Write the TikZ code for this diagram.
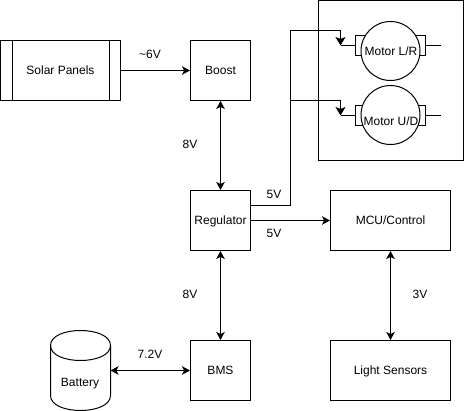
\documentclass[tikz,border=0pt]{standalone}
\usepackage{fontspec}
\setmainfont{Liberation Sans}
\usetikzlibrary{arrows.meta}
\tikzset{
    block/.style={draw, minimum width=60pt, minimum height=60pt, inner sep=0pt, text height=8.6pt, text depth=0.6pt, font=\fontsize{12}{14}\selectfont},
    widebox/.style={block, minimum width=120pt},
    volt/.style={inner sep=0pt, text height=8.6pt, text depth=0.6pt, font=\fontsize{12}{14}\selectfont},
    motorbody/.style={draw, circle, fill=white, minimum size=59pt, inner sep=0pt},
    brush/.style={draw, minimum width=12pt, minimum height=20pt, inner sep=0pt},
    tip/.style={-{Stealth[length=8pt,width=8.5pt,inset=2pt]}},
    widetip/.style={-{Stealth[length=8.5pt,width=10pt,inset=2pt]}},
    bothtip/.style={{Stealth[length=8pt,width=8.5pt,inset=2pt]}-{Stealth[length=8pt,width=8.5pt,inset=2pt]}}
}
\begin{document}
\begin{tikzpicture}[x=1pt, y=-1pt, line width=1pt]
        \useasboundingbox (0,0) rectangle (464,411);

        % the enclosure round the motors
        \draw (318,0.5) rectangle (463.5,160.5);

        % the blocks
        \node[widebox] (solar) at (60.5,70.5) {Solar Panels};
        \draw (solar.north west) ++(12,0) -- ++(0,60);
        \draw (solar.north east) ++(-12,0) -- ++(0,60);
        \node[block] (boost) at (220.5,70.5) {Boost};
        \node[block] (reg) at (220.5,220.5) {Regulator};
        \node[block] (bms) at (220.5,370.5) {BMS};
        \node[widebox] (mcu) at (390.5,220.5) {MCU/Control};
        \node[widebox] (light) at (390.5,370.5) {Light Sensors};

        % the battery, drawn by hand since it is a can
        \draw (50.5,345.5) .. controls (50.5,325.5) and (110.5,325.5) .. (110.5,345.5) -- (110.5,395.5)
            .. controls (110.5,415.5) and (50.5,415.5) .. (50.5,395.5) -- cycle;
        \draw (50.5,345.5) .. controls (50.5,365.5) and (110.5,365.5) .. (110.5,345.5);
        \node[volt] (bat) at (80,383) {Battery};
        \coordinate (batport) at (110.5,370.5);

        % the motors
        \node[brush] (lbrush1) at (361.5,45.5) {};
        \node[brush] (rbrush1) at (419.5,45.5) {};
        \node[motorbody] (motor1) at (390.5,51) {};
        \node[volt] (mlabel1) at (391,52) {Motor L/R};
        \node[brush] (lbrush2) at (361.5,115.5) {};
        \node[brush] (rbrush2) at (419.5,115.5) {};
        \node[motorbody] (motor2) at (390.5,115) {};
        \node[volt] (mlabel2) at (391,122) {Motor U/D};
        \coordinate (in1) at (340.5,45.5);
        \coordinate (in2) at (340.5,115.5);
        \coordinate (out1) at (440.5,45.5);
        \coordinate (out2) at (440.5,115.5);
        \draw (in1) -- (lbrush1.west);
        \draw (in2) -- (lbrush2.west);
        \draw (rbrush1.east) -- (out1);
        \draw (rbrush2.east) -- (out2);

        % the points where the 5V line turns
        \coordinate (regout) at (250.5,205.5);
        \coordinate (turn) at (290.5,205.5);
        \coordinate (branch) at (290.5,100.5);
        \coordinate (top) at (290.5,30.5);

        % draw the arrows
        \draw[tip] (solar) -- (boost);
        \draw[bothtip] (boost) -- (reg);
        \draw[bothtip] (reg) -- (bms);
        \draw[bothtip] (batport) -- (bms);
        \draw[tip] (reg) -- (mcu);
        \draw[bothtip] (mcu) -- (light);
        \draw[widetip] (regout) -- (turn) -- (top) -| (in1);
        \draw[widetip] (branch) -| (in2);

        % the texts
        \node[volt] (v1) at (150,55) {\textasciitilde 6V};
        \node[volt] (v2) at (190,145) {8V};
        \node[volt] (v3) at (274,195) {5V};
        \node[volt] (v4) at (274,234) {5V};
        \node[volt] (v5) at (190,295) {8V};
        \node[volt] (v6) at (420,295) {3V};
        \node[volt] (v7) at (150,355) {7.2V};

    \end{tikzpicture}
\end{document}
